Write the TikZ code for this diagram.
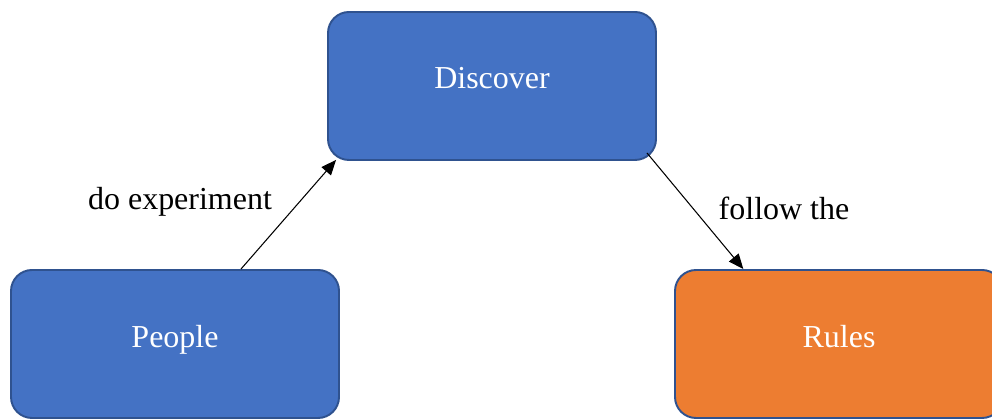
\documentclass[tikz,border=0pt]{standalone}
\usepackage{fontspec}
\setmainfont{Liberation Serif}
\usetikzlibrary{arrows.meta,calc}
\definecolor{boxblue}{HTML}{4472C4}
\definecolor{boxorange}{HTML}{ED7D31}
\definecolor{edgeblue}{HTML}{2F528F}
\begin{document}
\begin{tikzpicture}[
  box/.style={draw=edgeblue,line width=1.1pt,rounded corners=0.42cm,
    minimum width=6.56cm,minimum height=2.96cm,text=white,text depth=0.32cm,
    font=\fontsize{18.2}{22}\selectfont},
  lbl/.style={font=\fontsize{18.2}{22}\selectfont},
  link/.style={line width=0.6pt,-{Triangle[length=0.3cm,width=0.25cm]}}]
  \useasboundingbox (0,0) rectangle (19.84,8.38);
  \node[box,fill=boxblue] (discover) at (9.84,6.66) {Discover};
  \node[box,fill=boxblue] (people) at (3.5,1.5) {People};
  \node[box,fill=boxorange] (rules) at (16.78,1.5) {Rules};
  \draw[link] ($(people.north west)!0.7!(people.north east)$) -- ($(discover.south west)+(0.18,0.02)$);
  \draw[link] ($(discover.south east)+(-0.2,0.16)$) -- ($(rules.north west)!0.21!(rules.north east)$);
  \node[lbl] (doexp) at (3.6,4.34) {do experiment};
  \node[lbl] (follow) at (15.68,4.22) {follow the};
\end{tikzpicture}
\end{document}
